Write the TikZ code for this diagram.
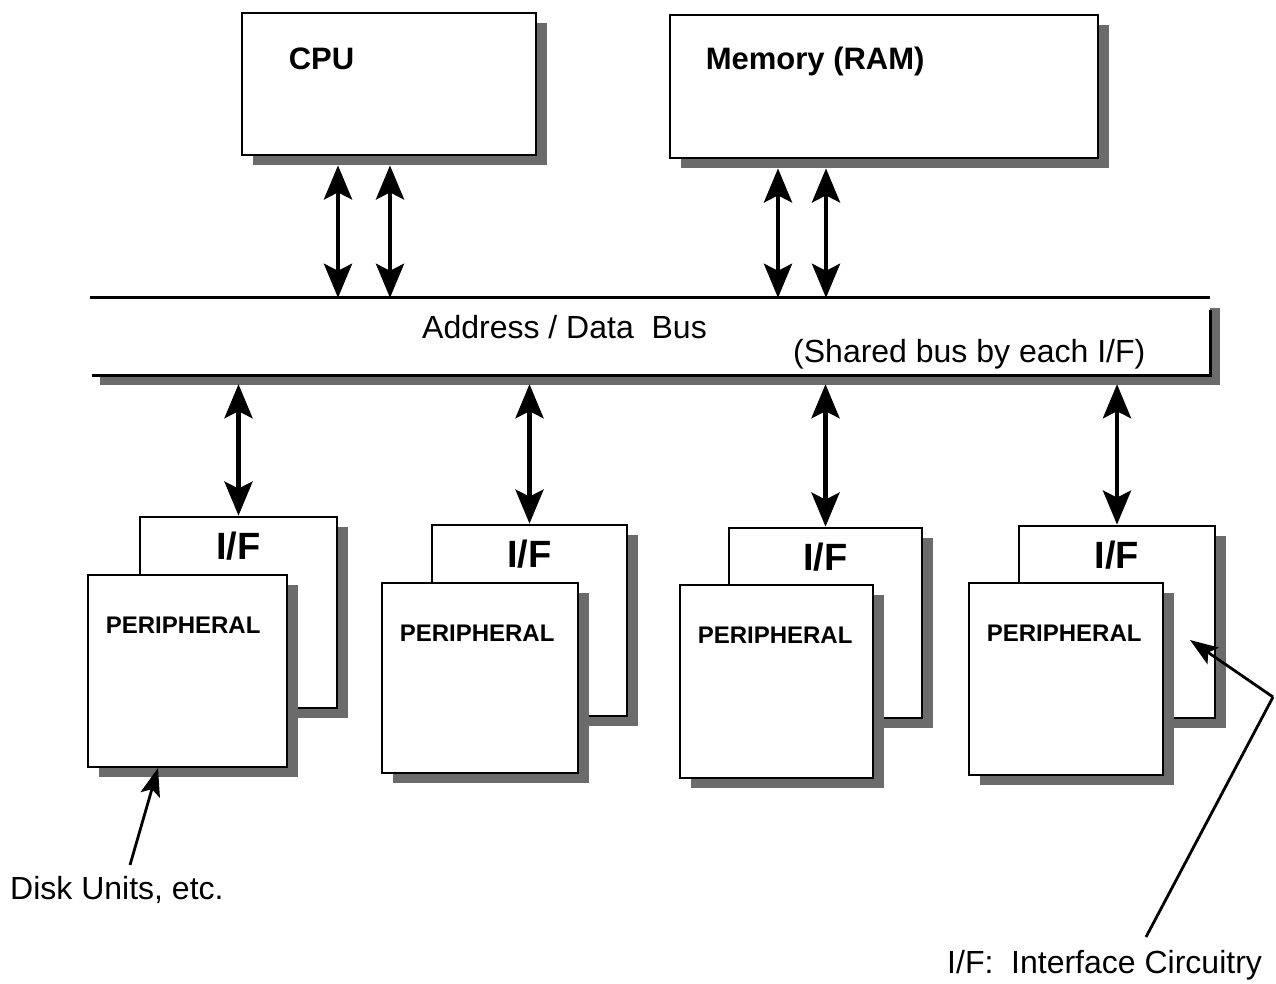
\documentclass[tikz,border=0pt]{standalone}
\usepackage{fontspec}
\setmainfont{Liberation Sans}
\usetikzlibrary{arrows.meta,shadows,calc}

\tikzset{
  unitbox/.style={draw=black, line width=2.8pt, fill=white, inner sep=0pt,
    drop shadow={shadow xshift=11pt, shadow yshift=-10pt, opacity=1, fill=black!58}},
  labeltext/.style={inner sep=0pt, anchor=base west},
  bigbold/.style={font=\fontsize{31}{36}\selectfont\bfseries},
  ifbold/.style={font=\fontsize{38}{42}\selectfont\bfseries, inner sep=0pt, anchor=base},
  periph/.style={font=\fontsize{24}{28}\selectfont\bfseries, inner sep=0pt, anchor=base west},
  plain/.style={font=\fontsize{32}{38}\selectfont, inner sep=0pt, anchor=base west},
  busarrow/.style={line width=4.6pt,
    {Stealth[length=34pt,width=28pt,inset=7pt]}-{Stealth[length=34pt,width=28pt,inset=7pt]}},
  notearrow/.style={line width=2.8pt, -{Stealth[length=28pt,width=20pt,inset=6pt]}},
  busline/.style={line width=2.8pt}
}

% box given by its top-left and bottom-right corners (pixel coordinates, y down)
\newcommand{\unitrect}[5]{%
  \node[unitbox, minimum width={(#4)-(#2)}, minimum height={(#5)-(#3)}]
    (#1) at ({((#2)+(#4))/2},{((#3)+(#5))/2}) {};}

\begin{document}
\begin{tikzpicture}[x=1pt, y=-1pt]
\useasboundingbox (0,0) rectangle (1276,983);

% processor and memory
\unitrect{cpu}{242}{13}{536}{155}
\unitrect{mem}{670}{15}{1098}{158}
\node[labeltext, bigbold] (cputext) at ([xshift=48pt,yshift=-58pt]cpu.north west) {CPU};
\node[labeltext, bigbold] (memtext) at ([xshift=37pt,yshift=-56pt]mem.north west) {Memory (RAM)};

% shared bus: open on the left side
\node[fill=white, inner sep=0pt, minimum width=1120pt, minimum height=77pt,
  drop shadow={shadow xshift=10pt, shadow yshift=-10pt, opacity=1, fill=black!58}]
  (bus) at (650,336.5) {};
\draw[busline] (bus.north west) -- (bus.north east);
\draw[busline] ([xshift=2pt]bus.south west) -- (bus.south east) -- ([yshift=-12pt]bus.north east);
\node[plain] (bustext) at (422,338) {Address / Data\ \ Bus};
\node[plain] (sharedtext) at (793,362) {(Shared bus by each I/F)};

% peripheral units with their interface boards
\unitrect{if1}{140}{517}{337}{708}
\unitrect{p1}{88}{575}{287}{767}
\unitrect{if2}{432}{525}{627}{716}
\unitrect{p2}{382}{583}{578}{773}
\unitrect{if3}{729}{528}{922}{718}
\unitrect{p3}{680}{585}{873}{778}
\unitrect{if4}{1019}{526}{1215}{718}
\unitrect{p4}{969}{583}{1163}{775}

\foreach \k in {1,2,3,4}{
  \node[ifbold] (iftext\k) at ([yshift=-44pt]if\k.north) {I/F};
  \node[periph] (ptext\k) at ([xshift=19pt,yshift=-60pt]p\k.north west) {PERIPHERAL};
}

% bus connections
\draw[busarrow] ([xshift=-51pt,yshift=-9pt]cpu.south) -- ([xshift=-51pt]cpu.south |- bus.north);
\draw[busarrow] ([xshift=1pt,yshift=-9pt]cpu.south) -- ([xshift=1pt]cpu.south |- bus.north);
\draw[busarrow] ([xshift=-106pt,yshift=-9pt]mem.south) -- ([xshift=-106pt]mem.south |- bus.north);
\draw[busarrow] ([xshift=-58pt,yshift=-9pt]mem.south) -- ([xshift=-58pt]mem.south |- bus.north);
\foreach \k in {1,2,3,4}{
  \draw[busarrow] ([yshift=-9pt]bus.south -| if\k.north) -- (if\k.north);
}

% notes
\node[plain] (disknote) at (10,899) {Disk Units, etc.};
\coordinate (disktail) at (130,865);
\coordinate (disktip) at (158,768);
\draw[notearrow] (disktail) -- (disktip);

\node[plain] (ifnote) at (947,973) {I/F:\ \ Interface Circuitry};
\coordinate (iftail) at (1146,937);
\coordinate (ifbend) at (1273,697);
\coordinate (iftip) at (1190,640);
\draw[line width=2.8pt] (iftail) -- (ifbend);
\draw[notearrow] (ifbend) -- (iftip);
\end{tikzpicture}
\end{document}
